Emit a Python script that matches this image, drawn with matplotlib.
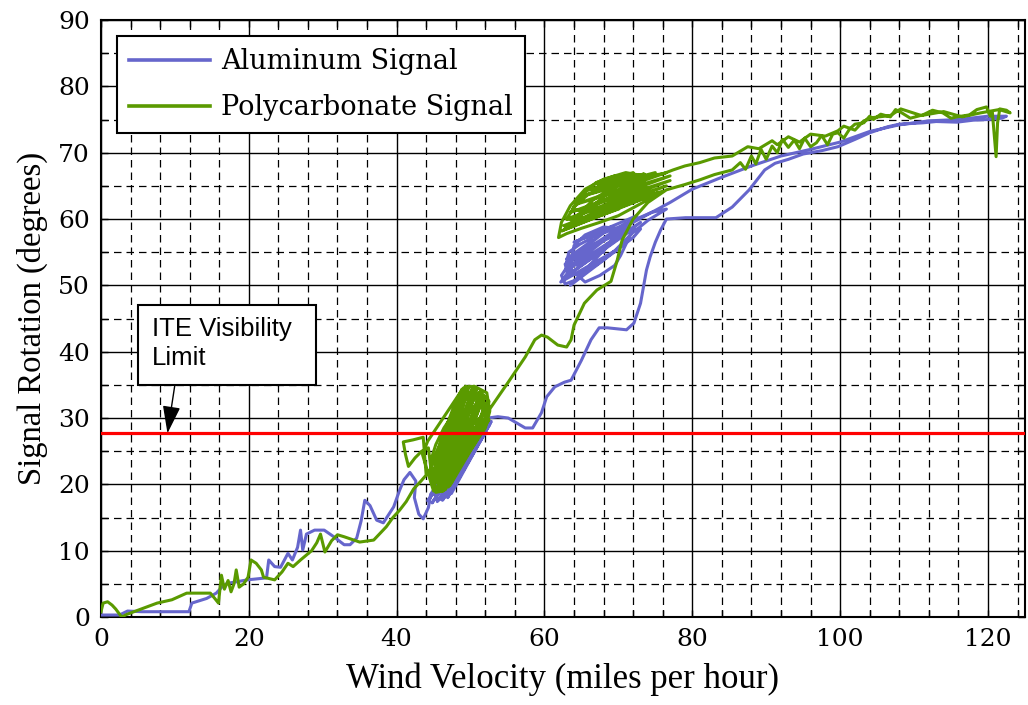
import matplotlib
matplotlib.use("Agg")
import numpy as np
import matplotlib.pyplot as plt
from matplotlib.patches import Rectangle
from matplotlib.ticker import MultipleLocator

# --------------------------------------------------------------------------- #
# Data: wind velocity (mph) vs signal rotation (deg)
# --------------------------------------------------------------------------- #
# Aluminum signal, split into the parts of the trace
AL_RAMP_X = [0.0, 2.5, 3.6, 5.5, 8.0, 11.9, 12.3, 14.3, 15.6, 16.6, 17.2, 18.3,
             19.8, 22.4, 22.7, 23.5, 24.3, 25.3, 25.9, 26.6, 27.0, 27.3, 27.8,
             28.9, 30.2, 31.5, 32.9, 33.7, 34.6, 35.2, 35.7, 36.4, 37.3, 38.2,
             39.6, 40.4, 41.0]
AL_RAMP_Y = [0.3, 0.3, 0.9, 0.8, 0.8, 0.8, 2.1, 2.8, 3.6, 4.8, 5.1, 5.3,
             5.6, 5.9, 8.6, 7.6, 7.5, 9.6, 8.6, 10.5, 13.1, 10.1, 12.5,
             13.1, 13.1, 12.1, 10.9, 10.9, 11.9, 14.5, 17.6, 16.8, 14.6, 14.2,
             16.6, 19.1, 20.7]

AL_LOOP1_X = [41.8, 42.6, 42.4, 43.0, 43.6, 44.3, 44.6, 45.8, 47.0, 48.3, 49.8,
              51.0, 52.0, 51.2, 49.6, 48.2, 47.2, 46.4, 45.6, 45.0, 46.0, 47.5,
              49.2, 50.8, 52.4, 51.5, 50.0, 48.6, 47.6, 46.8, 45.9, 47.0, 48.5,
              50.4, 52.4, 51.0, 44.2, 51.6, 44.8, 52.2, 45.5, 52.6, 46.2, 52.0,
              46.9, 52.8, 47.4, 52.4]
AL_LOOP1_Y = [21.8, 20.5, 18.0, 15.5, 14.8, 16.5, 18.5, 20.5, 22.5, 24.5, 26.5,
              27.8, 28.6, 27.0, 24.8, 22.5, 20.0, 18.0, 17.6, 18.8, 21.0, 23.5,
              26.0, 28.0, 29.2, 28.0, 25.5, 23.0, 20.5, 18.6, 19.5, 22.0, 24.5,
              27.2, 30.0, 28.2, 17.5, 28.8, 17.2, 29.4, 17.4, 29.0, 17.6, 27.8,
              18.0, 29.5, 18.6, 30.0]

AL_RISE_X = [53.7, 55.1, 57.4, 58.4, 59.6, 60.3, 61.4, 62.7, 63.6, 65.0, 66.3,
             67.4, 68.5, 71.1, 72.1, 73.0, 73.4, 73.8, 74.3, 75.0, 75.7, 76.5,
             79.1, 83.2, 85.4, 87.7, 89.8, 91.2]
AL_RISE_Y = [30.2, 30.0, 28.5, 28.5, 30.8, 33.2, 34.7, 35.4, 35.7, 38.7, 41.8,
             43.6, 43.6, 43.3, 44.3, 47.3, 49.8, 52.3, 54.3, 56.5, 58.3, 60.0,
             60.2, 60.2, 61.8, 64.4, 67.4, 68.4]

AL_TOP_X = [93.0, 95.0, 97.5, 99.7, 102.0, 104.0, 106.4, 108.0, 111.2, 113.0,
            115.8, 118.0, 120.0, 121.9, 122.5]
AL_TOP_Y = [69.0, 69.8, 70.3, 70.9, 72.0, 73.0, 73.9, 74.3, 74.5, 74.7,
            74.6, 74.9, 75.0, 75.2, 75.5]

AL_RETURN_X = [120.0, 116.0, 112.0, 108.0, 104.0, 100.0, 96.0, 92.0, 88.0, 84.0,
               80.0, 77.0, 74.5, 72.0, 69.0, 66.0, 63.5, 62.3, 62.8, 64.2, 66.0,
               68.0, 70.0, 72.0, 73.0, 71.0, 68.5, 66.0, 64.0, 62.8, 63.2, 65.0,
               67.2, 69.5, 71.8, 74.0, 76.5, 74.5, 72.0, 69.5, 67.0, 64.8, 63.3,
               63.0, 64.5, 66.5, 68.8, 70.5, 68.0, 65.5, 64.0, 63.5, 65.5, 67.5,
               69.5, 70.3, 72.0, 62.5, 73.0, 62.8, 71.0, 63.0, 69.0, 64.0, 72.5,
               63.5, 70.0, 62.2, 66.5, 63.0, 68.0]
AL_RETURN_Y = [75.5, 75.0, 74.8, 74.2, 73.2, 71.6, 70.5, 69.5, 68.0, 66.3,
               64.5, 62.5, 61.0, 59.5, 57.5, 55.5, 53.5, 51.5, 50.2, 50.8, 52.3,
               54.0, 55.5, 57.2, 58.5, 58.3, 57.0, 55.8, 54.5, 53.2, 51.5, 51.8,
               53.2, 55.2, 57.8, 59.8, 61.5, 61.0, 59.8, 58.5, 57.5, 56.2, 55.0,
               53.5, 53.0, 54.5, 56.5, 58.5, 58.8, 57.6, 56.0, 52.5, 50.5, 51.5,
               53.0, 54.5, 58.5, 51.0, 59.5, 52.2, 59.3, 53.5, 58.8, 56.5, 60.5,
               50.0, 55.5, 50.5, 56.8, 54.0, 55.0]

# Polycarbonate signal
PC_RAMP_X = [0.0, 0.3, 0.9, 1.5, 2.0, 2.8, 3.5, 5.2, 7.6, 9.6, 11.6, 13.6,
             14.8, 15.4, 15.9, 16.3, 16.7, 17.2, 17.6, 18.0, 18.3, 18.7, 19.3,
             19.9, 20.3, 21.0, 21.7, 22.0, 23.5, 24.5, 25.3, 26.0, 27.0, 28.5,
             29.2, 29.7, 30.3, 31.2, 32.0, 32.9, 35.0, 36.9, 38.6, 39.5, 40.4,
             41.3, 42.3, 43.3, 44.0]
PC_RAMP_Y = [0.8, 2.1, 2.3, 1.8, 1.2, 0.0, 0.4, 1.1, 2.1, 2.6, 3.6, 3.6,
             3.6, 2.8, 2.1, 6.3, 4.2, 5.5, 3.8, 5.0, 7.1, 4.5, 5.0,
             6.0, 8.6, 8.1, 7.1, 6.0, 5.6, 6.8, 8.1, 7.6, 8.6, 10.0,
             11.2, 12.5, 9.8, 11.5, 12.4, 12.1, 11.3, 11.6, 13.6, 15.0, 16.1,
             17.4, 19.3, 20.5, 21.4]

PC_LOOP1_X = [43.6, 42.2, 40.9, 41.2, 41.6, 42.5, 43.4, 44.3, 45.0, 44.3, 43.5,
              44.2, 46.0, 47.5, 49.0, 50.5, 52.2, 52.6, 52.0, 50.8, 49.0, 47.3,
              46.3, 45.3, 44.8, 45.6, 46.8, 48.2, 49.6, 51.0, 50.6, 49.4, 48.0,
              46.9, 45.8, 45.2, 46.0, 47.2, 48.6, 50.2, 51.8, 51.5, 50.2, 48.6,
              47.4, 46.4, 45.6, 46.5, 47.8, 49.0, 50.5, 51.9, 51.2, 49.6, 48.1,
              46.9, 45.9, 47.0, 48.4, 49.8, 51.3, 52.5, 52.0, 50.6, 49.2, 47.7,
              46.2, 45.0, 44.6, 45.3, 46.4, 47.6, 48.9, 50.0, 49.2, 48.0, 46.8,
              45.7, 45.2, 45.8, 44.6, 48.8, 45.0, 49.3, 45.4, 49.8, 45.8, 50.3,
              46.2, 50.8, 46.6, 51.3, 47.0, 51.8, 47.4, 52.3, 47.8, 52.6, 48.3,
              52.5, 47.2, 51.5, 46.4, 50.5, 45.6, 49.5, 44.8, 48.6, 44.3, 48.0,
              45.2, 46.0]
PC_LOOP1_Y = [27.1, 26.7, 26.4, 24.5, 22.7, 24.0, 25.0, 25.5, 19.0, 21.5, 24.5,
              26.5, 29.5, 32.0, 34.5, 34.8, 33.8, 31.0, 28.5, 26.5, 23.5, 20.5,
              19.0, 18.8, 21.0, 24.0, 27.0, 30.5, 33.5, 33.0, 30.0, 27.5, 24.5,
              21.5, 20.0, 22.5, 25.5, 28.5, 32.0, 34.2, 32.8, 30.0, 27.8, 25.0,
              22.5, 20.2, 21.8, 24.0, 27.0, 29.5, 31.8, 31.5, 28.8, 26.0, 23.0,
              20.8, 22.8, 26.0, 28.8, 31.8, 34.0, 32.5, 29.8, 27.5, 24.8, 21.8,
              19.5, 21.0, 23.5, 26.0, 28.5, 30.5, 32.8, 33.5, 30.5, 27.8, 25.0,
              22.5, 21.0, 23.0, 20.5, 34.3, 19.6, 34.8, 19.2, 34.8, 19.0, 34.6,
              19.0, 34.3, 19.2, 33.9, 19.6, 33.3, 20.2, 32.5, 21.2, 31.2, 22.4,
              29.8, 19.8, 33.6, 19.1, 34.5, 19.2, 34.7, 20.0, 33.8, 21.5, 32.5,
              20.5, 22.5]

PC_RISE_X = [47.0, 50.0, 52.5, 55.1, 57.4, 58.7, 59.6, 60.4, 61.8, 63.0, 63.6,
             64.0, 65.4, 67.1, 69.0, 69.8, 70.5, 72.0, 74.0, 76.5, 79.0, 81.0,
             83.0, 85.4]
PC_RISE_Y = [25.0, 28.8, 31.2, 35.4, 39.2, 41.8, 42.5, 42.2, 41.0, 40.7, 41.8,
             44.0, 47.3, 49.3, 50.6, 53.6, 56.8, 60.0, 62.5, 64.4, 65.2, 65.9,
             66.7, 67.4]

PC_TOP_X = [86.5, 87.2, 88.0, 88.6, 89.3, 90.0, 90.8, 91.5, 92.2, 93.0, 93.8,
            94.5, 95.2, 96.0, 96.8, 97.5, 98.3, 99.0, 99.7, 100.5, 101.3, 102.0,
            103.2, 104.0, 104.5, 105.5, 106.8, 107.5, 108.2, 109.5, 111.2, 112.5,
            113.9, 115.0, 115.8, 117.5, 118.5, 119.8, 120.3, 120.6, 121.1, 121.3,
            121.6, 122.5, 123.0]
PC_TOP_Y = [68.5, 67.5, 69.5, 68.3, 70.5, 69.0, 71.0, 70.0, 72.0, 70.8, 71.9,
            70.6, 72.2, 70.9, 71.5, 72.6, 71.2, 72.8, 73.0, 72.2, 73.6, 74.3,
            74.5, 75.5, 75.0, 75.8, 75.4, 76.5, 76.1, 75.2, 75.7, 76.4,
            76.0, 75.2, 75.4, 75.7, 76.5, 76.9, 75.5, 76.0, 69.4, 74.5,
            76.6, 76.4, 76.0]

PC_RETURN_X = [121.5, 119.0, 116.5, 114.0, 111.0, 108.2, 106.8, 104.5, 103.2,
               102.0, 100.5, 99.7, 98.0, 96.0, 94.5, 93.0, 91.5, 90.8, 89.0,
               87.5, 85.4, 83.0, 81.0, 79.0, 77.4, 76.0, 73.5, 71.0, 68.0, 65.5,
               63.5, 62.3, 61.9, 63.0, 65.0, 67.5, 70.0, 72.5, 75.0, 73.5, 71.0,
               68.5, 66.0, 64.0, 63.0, 64.5, 66.8, 69.0, 71.5, 74.0, 72.0, 69.5,
               67.0, 65.0, 63.8, 65.5, 67.5, 70.0, 72.5, 70.0, 67.5, 65.0, 63.2,
               64.5, 66.5, 68.8, 71.2, 73.5, 71.8, 69.5, 67.0, 62.3, 76.0, 62.6,
               76.5, 63.0, 77.0, 63.5, 77.0, 64.2, 76.5, 65.0, 75.0, 66.0, 73.5,
               67.2, 72.0, 63.8, 75.5, 62.8, 70.0]
PC_RETURN_Y = [76.5, 76.0, 75.4, 76.2, 75.6, 76.6, 75.6, 75.3, 74.8,
               73.4, 74.0, 73.3, 72.5, 72.8, 71.6, 72.4, 71.2, 71.8, 70.6,
               70.9, 69.5, 69.2, 68.5, 68.0, 67.4, 66.8, 66.5, 67.0, 66.0, 64.5,
               62.0, 59.5, 57.2, 57.8, 58.6, 59.5, 60.5, 62.0, 63.5, 64.8, 65.3,
               65.0, 63.8, 61.8, 60.0, 59.8, 61.0, 62.5, 63.5, 64.5, 66.2, 66.5,
               65.5, 63.5, 61.5, 61.0, 62.5, 64.0, 65.0, 63.0, 60.8, 59.5, 58.8,
               60.5, 62.8, 64.5, 65.8, 65.7, 64.0, 62.0, 60.3, 58.2, 64.2, 59.0,
               65.0, 60.0, 65.8, 61.0, 66.5, 62.2, 67.0, 63.4, 67.0, 64.4, 66.8,
               65.2, 67.0, 59.5, 64.0, 58.6, 61.5]

LIMIT_DEG = 27.7
X_TICKS = [0, 20, 40, 60, 80, 100, 120]
Y_TICKS = [0, 10, 20, 30, 40, 50, 60, 70, 80, 90]

# --------------------------------------------------------------------------- #
# Styling
# --------------------------------------------------------------------------- #
AL_COLOR = "#6666cc"
PC_COLOR = "#5a9a00"
LIMIT_COLOR = "#ff0000"
LINE_W = 2.2
TICK_FONT = "DejaVu Serif"
LABEL_FONT = "Liberation Serif"


def main() -> None:
    al_x = AL_RAMP_X + AL_LOOP1_X + AL_RISE_X + AL_TOP_X + AL_RETURN_X
    al_y = AL_RAMP_Y + AL_LOOP1_Y + AL_RISE_Y + AL_TOP_Y + AL_RETURN_Y
    pc_x = PC_RAMP_X + PC_LOOP1_X + PC_RISE_X + PC_TOP_X + PC_RETURN_X
    pc_y = PC_RAMP_Y + PC_LOOP1_Y + PC_RISE_Y + PC_TOP_Y + PC_RETURN_Y

    fig = plt.figure(figsize=(10.28, 7.05), dpi=100)
    ax = fig.add_axes([0.0982, 0.1248, 0.8988, 0.8468])

    ax.plot(al_x, al_y, color=AL_COLOR, lw=LINE_W, zorder=3,
            solid_joinstyle="round", label="Aluminum Signal")
    ax.plot(pc_x, pc_y, color=PC_COLOR, lw=LINE_W, zorder=3.5,
            solid_joinstyle="round", label="Polycarbonate Signal")
    ax.axhline(LIMIT_DEG, color=LIMIT_COLOR, lw=2.3, zorder=4)

    ax.set_xlim(0, 125)
    ax.set_ylim(0, 90)
    ax.set_xticks(X_TICKS)
    ax.set_yticks(Y_TICKS)
    ax.xaxis.set_minor_locator(MultipleLocator(4))
    ax.yaxis.set_minor_locator(MultipleLocator(5))
    ax.set_axisbelow(True)
    ax.grid(which="major", color="black", lw=1.0, ls="-")
    ax.grid(which="minor", color="black", lw=0.9, ls=(0, (6, 4)))
    ax.tick_params(which="both", direction="in", top=True, right=True,
                   length=5, width=1.0)
    ax.tick_params(which="major", labelsize=18, pad=8)
    for lab in ax.get_xticklabels() + ax.get_yticklabels():
        lab.set_family(TICK_FONT)
    for sp in ax.spines.values():
        sp.set_linewidth(1.5)

    ax.set_xlabel("Wind Velocity (miles per hour)", family=LABEL_FONT,
                  fontsize=25, labelpad=8)
    ax.set_ylabel("Signal Rotation (degrees)", family=LABEL_FONT,
                  fontsize=23.5, labelpad=7)

    leg = ax.legend(loc="upper left", bbox_to_anchor=(0.0173, 0.973),
                    borderaxespad=0, fancybox=False, framealpha=1,
                    edgecolor="black", prop={"family": TICK_FONT, "size": 19.5},
                    handlelength=3.0, handletextpad=0.4, borderpad=0.45,
                    labelspacing=0.7)
    leg.get_frame().set_linewidth(1.5)
    leg.set_zorder(6)
    for line in leg.get_lines():
        line.set_linewidth(2.6)

    # ITE visibility limit callout
    ax.add_patch(Rectangle((4.95, 35.0), 24.15, 12.05, facecolor="white",
                           edgecolor="black", lw=1.5, zorder=6))
    ax.text(6.9, 45.2, "ITE Visibility\nLimit", family="Liberation Sans",
            fontsize=18.5, va="top", ha="left", linespacing=1.25, zorder=7)
    ax.annotate("", xy=(9.0, LIMIT_DEG), xytext=(10.0, 35.0),
                arrowprops=dict(arrowstyle="-|>,head_length=1.7,head_width=0.55",
                                color="black", lw=1.0, shrinkA=0, shrinkB=0),
                zorder=7)

    fig.savefig("out.png", dpi=100)
    plt.close(fig)


if __name__ == "__main__":
    main()
